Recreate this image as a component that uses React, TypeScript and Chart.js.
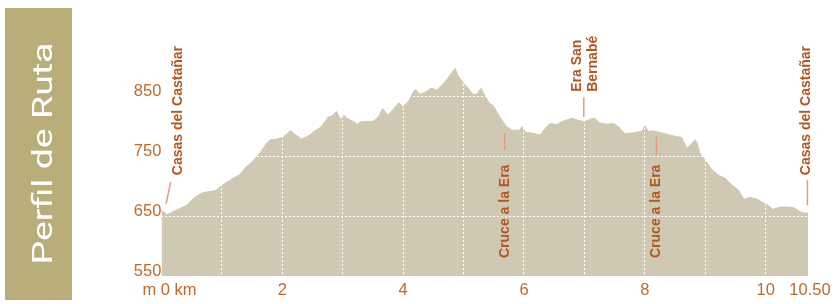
import React, { useEffect, useRef } from 'react';
import { Chart, registerables } from 'chart.js';

Chart.register(...registerables);

// ---- data ----
const distanceKm = [
  0.0, 0.09, 0.25, 0.42, 0.53, 0.61, 0.69, 0.75, 0.89, 1.0, 1.13, 1.19, 1.3, 1.41, 1.47, 1.63, 1.74, 1.8, 1.91, 2.02,
  2.14, 2.21, 2.32, 2.46, 2.51, 2.62, 2.67, 2.76, 2.82, 2.9, 2.96, 3.02, 3.07, 3.18, 3.24, 3.3, 3.51, 3.59, 3.66, 3.75,
  3.84, 3.93, 3.99, 4.09, 4.17, 4.21, 4.27, 4.36, 4.46, 4.56, 4.64, 4.73, 4.8, 4.86, 4.91, 5.0, 5.08, 5.15, 5.22, 5.29,
  5.36, 5.43, 5.49, 5.52, 5.6, 5.71, 5.8, 5.92, 5.97, 6.03, 6.15, 6.27, 6.35, 6.43, 6.54, 6.62, 6.79, 6.88, 7.01, 7.09,
  7.16, 7.26, 7.37, 7.48, 7.56, 7.67, 7.81, 7.95, 8.0, 8.06, 8.14, 8.25, 8.42, 8.53, 8.61, 8.69, 8.75, 8.83, 8.87, 8.91,
  9.0, 9.11, 9.22, 9.33, 9.44, 9.55, 9.64, 9.74, 9.85, 9.96, 10.04, 10.12, 10.24, 10.35, 10.46, 10.54, 10.62, 10.7,
];
const elevationM = [
  660, 652, 660, 668, 679, 685, 689, 690, 692, 701, 709, 713, 719, 733, 737, 755, 771, 777, 778, 782,
  792, 786, 778, 785, 790, 797, 802, 815, 817, 824, 811, 818, 813, 807, 803, 807, 808, 815, 829, 818,
  828, 839, 832, 841, 857, 861, 853, 856, 863, 860, 868, 878, 888, 896, 884, 871, 863, 853, 853, 863,
  849, 838, 834, 829, 815, 799, 793, 793, 799, 789, 788, 785, 796, 804, 802, 807, 813, 810, 807, 811,
  813, 805, 803, 804, 799, 787, 789, 791, 800, 791, 792, 789, 785, 782, 781, 763, 768, 777, 771, 755,
  743, 727, 718, 713, 702, 693, 678, 681, 678, 672, 668, 661, 665, 665, 664, 659, 655, 655,
];
const yTickValues = [550, 650, 750, 850];
const yGridValues = [650, 750, 850];
const xGridKm = [1, 2, 3, 4, 5, 6, 7, 8, 9, 10];
const xLabelKm = [2, 4, 6, 8, 10];
const startLabel = 'm 0 km';
const routeEndKm = 10.7;
const routeEndLabel = '10.50';
const markerNames = [
  ['Casas del Castañar'],
  ['Cruce a la Era'],
  ['Era San', 'Bernabé'],
  ['Cruce a la Era'],
  ['Casas del Castañar'],
];
const panelTitle = 'Perfil de Ruta';

// ---- layout / style (positions in data units) ----
const markerLayout = [
  { from: [0.076, 670], to: [0.154, 707], text: [0.275, 718] },
  { from: [5.68, 760], to: [5.68, 788], text: [5.685, 580] },
  { from: [6.99, 815], to: [6.99, 848], text: [7.01, 857] },
  { from: [8.19, 752], to: [8.19, 783], text: [8.195, 580] },
  { from: [10.69, 668], to: [10.69, 710], text: [10.665, 718] },
];

const FILL = '#cfc9b4';
const PANEL = '#b9ad7a';
const LABEL = '#b3561f';
const TICK = '#bd6a2b';
const LEADER = '#e49d7c';
const SANS = '"Liberation Sans", Arial, sans-serif';

const overlayPlugin = {
  id: 'overlay',
  afterDraw(chart: any) {
    const ctx = chart.ctx as CanvasRenderingContext2D;
    const xs = chart.scales.x;
    const ys = chart.scales.y;

    // side panel
    ctx.save();
    ctx.fillStyle = PANEL;
    ctx.fillRect(5, 8, 67, 292);
    ctx.font = '28px Roboto';
    const w = ctx.measureText(panelTitle).width;
    ctx.translate(51.7, 264.5);
    ctx.rotate(-Math.PI / 2);
    ctx.scale(222 / w, 1);
    ctx.fillStyle = '#ffffff';
    ctx.textAlign = 'left';
    ctx.textBaseline = 'alphabetic';
    ctx.fillText(panelTitle, 0, 0);
    ctx.restore();

    // x axis labels
    ctx.save();
    ctx.font = '16.5px ' + SANS;
    ctx.fillStyle = TICK;
    ctx.textBaseline = 'alphabetic';
    ctx.textAlign = 'center';
    xLabelKm.forEach((k) => ctx.fillText(String(k), xs.getPixelForValue(k), 295));
    ctx.fillText(routeEndLabel, xs.getPixelForValue(routeEndKm) + 2, 295);
    ctx.textAlign = 'left';
    ctx.fillText(startLabel, xs.getPixelForValue(0) - 19, 295);
    ctx.restore();

    // markers
    ctx.save();
    markerLayout.forEach((m, i) => {
      ctx.strokeStyle = LEADER;
      ctx.lineWidth = 1.5;
      ctx.beginPath();
      ctx.moveTo(xs.getPixelForValue(m.from[0]), ys.getPixelForValue(m.from[1]));
      ctx.lineTo(xs.getPixelForValue(m.to[0]), ys.getPixelForValue(m.to[1]));
      ctx.stroke();

      const lines = markerNames[i];
      const tx = xs.getPixelForValue(m.text[0]);
      const ty = ys.getPixelForValue(m.text[1]);
      ctx.save();
      ctx.translate(tx, ty);
      ctx.rotate(-Math.PI / 2);
      ctx.font = 'bold 14px ' + SANS;
      ctx.fillStyle = LABEL;
      ctx.textAlign = 'left';
      ctx.textBaseline = 'middle';
      const lh = 16.5;
      lines.forEach((t, j) => {
        ctx.fillText(t, 0, (j - (lines.length - 1) / 2) * lh);
      });
      ctx.restore();
    });
    ctx.restore();
  },
};

export default function App() {
  const ref = useRef<HTMLCanvasElement | null>(null);
  useEffect(() => {
    if (!ref.current) return;
    const chart = new Chart(ref.current, {
      type: 'line',
      data: {
        datasets: [
          {
            data: distanceKm.map((d, i) => ({ x: d, y: elevationM[i] })),
            fill: 'start',
            backgroundColor: FILL,
            borderColor: FILL,
            borderWidth: 1,
            pointRadius: 0,
            tension: 0,
          },
        ],
      },
      options: {
        animation: false,
        responsive: false,
        devicePixelRatio: 1,
        layout: { padding: { left: 0, right: 29, top: 36, bottom: 0 } },
        plugins: { legend: { display: false }, tooltip: { enabled: false }, title: { display: false } },
        scales: {
          x: {
            type: 'linear',
            min: 0,
            max: routeEndKm,
            afterBuildTicks: (s: any) => {
              s.ticks = xGridKm.map((v) => ({ value: v }));
            },
            afterFit: (s: any) => {
              s.height = 28;
            },
            ticks: { display: false },
            grid: { color: '#ffffff', lineWidth: 1, drawTicks: false, z: 1 },
            border: { display: false, dash: [2, 2] },
          },
          y: {
            type: 'linear',
            min: 550,
            max: 950,
            afterBuildTicks: (s: any) => {
              s.ticks = yTickValues.map((v) => ({ value: v }));
            },
            afterFit: (s: any) => {
              s.width = 161.4;
            },
            ticks: {
              color: TICK,
              font: { family: SANS, size: 16.5 },
              padding: 0,
              labelOffset: -4.5,
              callback: (v: any) => String(v),
            },
            grid: {
              color: (c: any) => (c.tick && yGridValues.includes(c.tick.value) ? '#ffffff' : 'rgba(0,0,0,0)'),
              lineWidth: 1,
              drawTicks: false,
              z: 1,
            },
            border: { display: false, dash: [2, 2] },
          },
        },
      },
      plugins: [overlayPlugin],
    } as any);
    return () => chart.destroy();
  }, []);
  return (
    <div style={{ position: 'absolute', left: 0, top: 0, width: 837, height: 304, background: '#fff' }}>
      <canvas ref={ref} width={837} height={304} style={{ display: 'block', width: 837, height: 304 }} />
    </div>
  );
}
